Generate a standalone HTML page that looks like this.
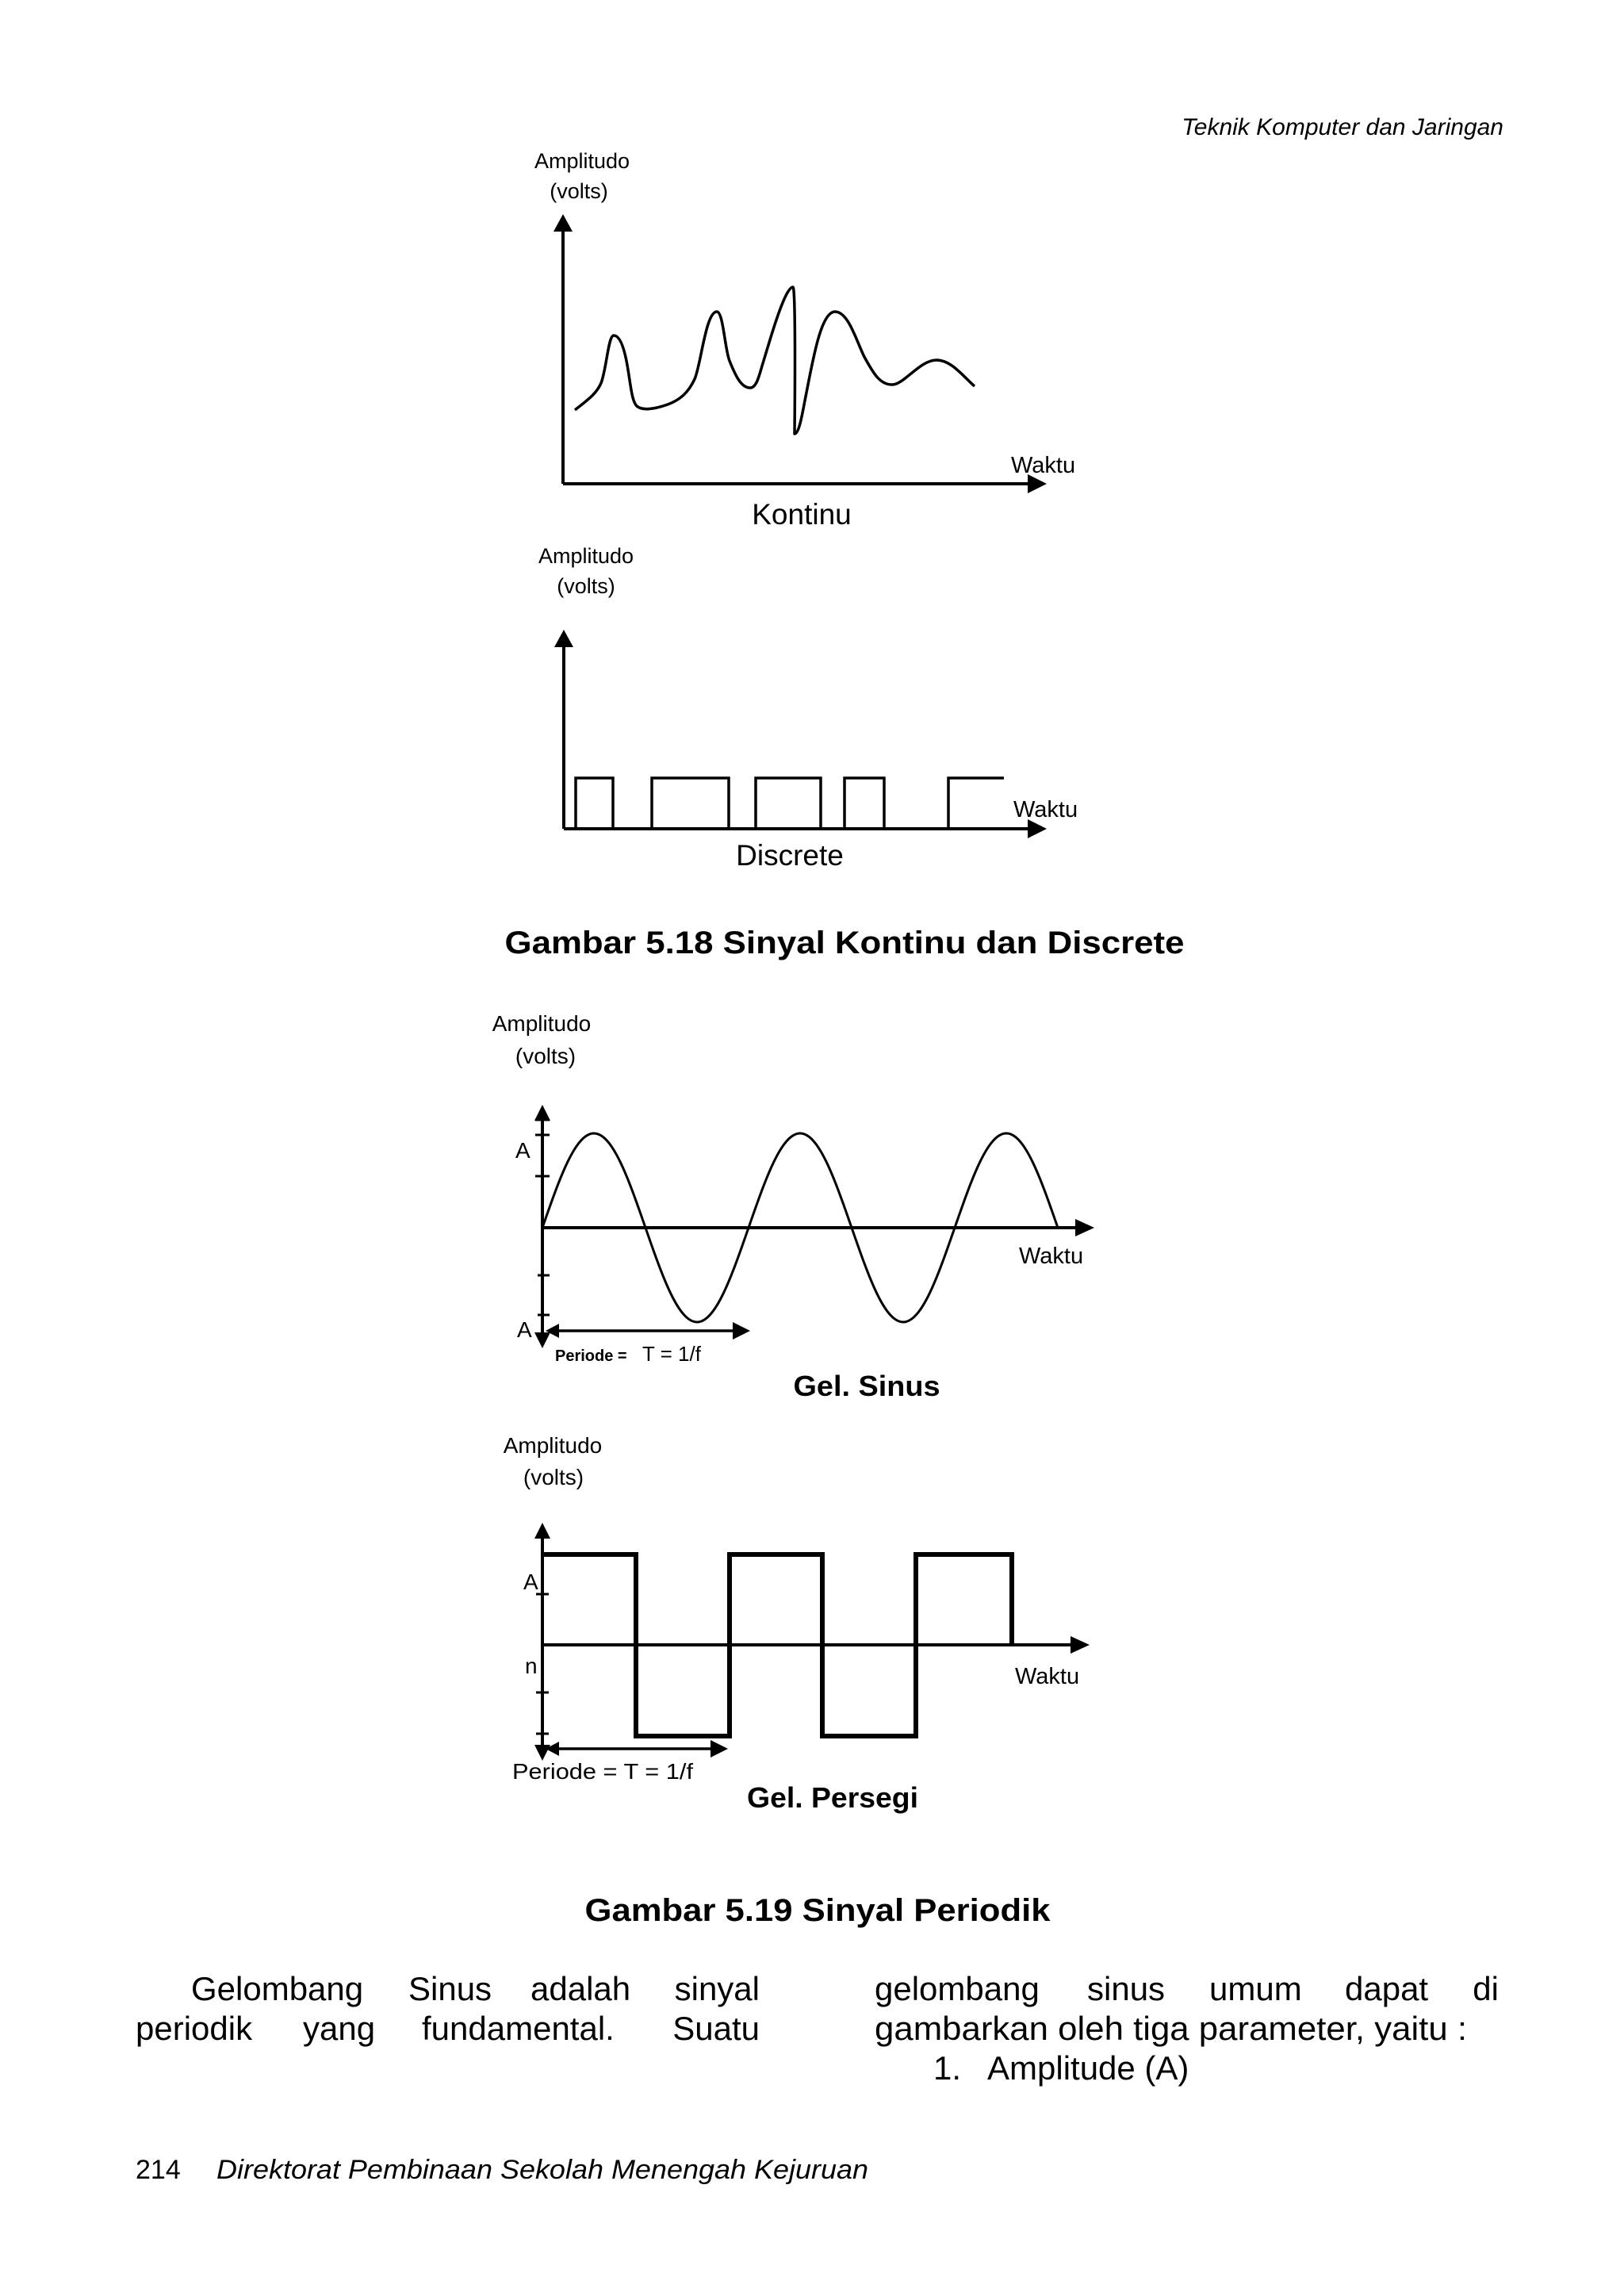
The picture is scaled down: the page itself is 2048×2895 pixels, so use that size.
<!DOCTYPE html>
<html><head><meta charset="utf-8"><style>
html,body{margin:0;padding:0;background:#fff}
svg{display:block}
text{font-family:"Liberation Sans",Arial,sans-serif;fill:#000}
</style></head><body>
<svg width="2048" height="2895" viewBox="0 0 2048 2895" xmlns="http://www.w3.org/2000/svg">
<rect width="2048" height="2895" fill="#fff"/>
<text x="1896" y="170" font-size="30" font-style="italic" text-anchor="end">Teknik Komputer dan Jaringan</text>

<!-- Kontinu -->
<g stroke="#000" fill="none">
<text x="734" y="212" font-size="27" text-anchor="middle" stroke="none">Amplitudo</text>
<text x="730" y="250" font-size="27" text-anchor="middle" stroke="none">(volts)</text>
<line x1="710" y1="285" x2="710" y2="610" stroke-width="4"/>
<line x1="710" y1="610" x2="1300" y2="610" stroke-width="4"/>
<polygon points="710,270 698,292 722,292" fill="#000" stroke="none"/>
<polygon points="1320,610 1296,598 1296,622" fill="#000" stroke="none"/>
<path d="M725,517 C740,505 752,497 758,483 C765,465 767,423 774,423 C782,423 787,440 790,455 C795,480 796,505 803,512 C810,518 825,516 842,510 C858,504 868,495 876,478 C884,460 890,393 904,393 C912,393 914,440 920,455 C928,475 935,489 946,489 C955,489 958,470 963,455 C972,425 990,362 1000,362 C1004,362 1002,547 1002,547 C1008,547 1012,520 1016,500 C1025,455 1035,393 1053,393 C1070,393 1080,430 1090,450 C1102,472 1110,485 1125,485 C1140,485 1160,454 1181,454 C1200,454 1215,475 1229,487" stroke-width="3.5" stroke-linejoin="round"/>
<text x="1275" y="596" font-size="29" stroke="none">Waktu</text>
<text x="1011" y="661" font-size="37" text-anchor="middle" stroke="none">Kontinu</text>

<!-- Discrete -->
<text x="739" y="710" font-size="27" text-anchor="middle" stroke="none">Amplitudo</text>
<text x="739" y="748" font-size="27" text-anchor="middle" stroke="none">(volts)</text>
<line x1="711" y1="808" x2="711" y2="1045" stroke-width="4"/>
<line x1="711" y1="1045" x2="1300" y2="1045" stroke-width="4"/>
<polygon points="711,794 699,816 723,816" fill="#000" stroke="none"/>
<polygon points="1320,1045 1296,1033 1296,1057" fill="#000" stroke="none"/>
<path d="M726,1045 V981 H773 V1045 M822,1045 V981 H919 V1045 M953,1045 V981 H1035 V1045 M1065,1045 V981 H1115 V1045 M1196,1045 V981 H1266" stroke-width="3.5"/>
<text x="1278" y="1030" font-size="29" stroke="none">Waktu</text>
<text x="996" y="1091" font-size="37" text-anchor="middle" stroke="none">Discrete</text>
</g>

<text x="1065" y="1202" font-size="40" font-weight="bold" text-anchor="middle" textLength="857" lengthAdjust="spacingAndGlyphs">Gambar 5.18 Sinyal Kontinu dan Discrete</text>

<!-- Sine -->
<g stroke="#000" fill="none">
<text x="683" y="1300" font-size="28" text-anchor="middle" stroke="none">Amplitudo</text>
<text x="688" y="1341" font-size="28" text-anchor="middle" stroke="none">(volts)</text>
<line x1="684" y1="1408" x2="684" y2="1690" stroke-width="4"/>
<polygon points="684,1393 674,1413 694,1413" fill="#000" stroke="none"/>
<polygon points="684,1700 674,1680 694,1680" fill="#000" stroke="none"/>
<line x1="684" y1="1548" x2="1358" y2="1548" stroke-width="4"/>
<polygon points="1380,1548 1356,1537 1356,1559" fill="#000" stroke="none"/>
<path d="M675,1412 H693 M675,1431 H693 M675,1483 H693 M678,1608 H693 M678,1658 H693" stroke-width="3"/>
<path d="M684,1548 C705.7,1485.5 725.5,1429 749,1429 C772.5,1429 792.3,1485.5 814,1548 C835.7,1610.5 855.5,1667 879,1667 C902.5,1667 922.3,1610.5 944,1548 C965.7,1485.5 985.5,1429 1009,1429 C1032.5,1429 1052.3,1485.5 1074,1548 C1095.7,1610.5 1115.5,1667 1139,1667 C1162.5,1667 1182.3,1610.5 1204,1548 C1225.7,1485.5 1245.5,1429 1269,1429 C1292.5,1429 1312.3,1485.5 1334,1548" stroke-width="3"/>
<line x1="700" y1="1678" x2="930" y2="1678" stroke-width="3.5"/>
<polygon points="688,1678 705,1669 705,1687" fill="#000" stroke="none"/>
<polygon points="946,1678 924,1667 924,1689" fill="#000" stroke="none"/>
<text x="650" y="1460" font-size="28" stroke="none">A</text>
<text x="652" y="1686" font-size="28" stroke="none">A</text>
<text x="700" y="1716" font-size="20" font-weight="bold" stroke="none">Periode =</text>
<text x="810" y="1716" font-size="26" stroke="none">T = 1/f</text>
<text x="1285" y="1593" font-size="29" stroke="none">Waktu</text>
<text x="1093" y="1760" font-size="36" font-weight="bold" text-anchor="middle" stroke="none" textLength="185" lengthAdjust="spacingAndGlyphs">Gel. Sinus</text>

<!-- Square -->
<text x="697" y="1832" font-size="28" text-anchor="middle" stroke="none">Amplitudo</text>
<text x="698" y="1872" font-size="28" text-anchor="middle" stroke="none">(volts)</text>
<line x1="684" y1="1935" x2="684" y2="2210" stroke-width="4"/>
<polygon points="684,1920 674,1940 694,1940" fill="#000" stroke="none"/>
<polygon points="684,2220 674,2200 694,2200" fill="#000" stroke="none"/>
<line x1="684" y1="2074" x2="1352" y2="2074" stroke-width="4"/>
<polygon points="1374,2074 1350,2063 1350,2085" fill="#000" stroke="none"/>
<path d="M676,2010 H692 M676,2134 H692 M676,2186 H692" stroke-width="3"/>
<path d="M686,1960 H802 V2189 H920 V1960 H1037 V2189 H1155 V1960 H1276 V2074" stroke-width="6"/>
<line x1="700" y1="2205" x2="900" y2="2205" stroke-width="3.5"/>
<polygon points="688,2205 705,2196 705,2214" fill="#000" stroke="none"/>
<polygon points="918,2205 896,2194 896,2216" fill="#000" stroke="none"/>
<text x="660" y="2004" font-size="28" stroke="none">A</text>
<text x="662" y="2110" font-size="28" stroke="none">n</text>
<text x="646" y="2243" font-size="28" stroke="none" textLength="228" lengthAdjust="spacingAndGlyphs">Periode = T = 1/f</text>
<text x="1280" y="2123" font-size="29" stroke="none">Waktu</text>
<text x="1050" y="2279" font-size="36" font-weight="bold" text-anchor="middle" stroke="none" textLength="216" lengthAdjust="spacingAndGlyphs">Gel. Persegi</text>
</g>

<text x="1031" y="2422" font-size="40" font-weight="bold" text-anchor="middle" textLength="587" lengthAdjust="spacingAndGlyphs">Gambar 5.19 Sinyal Periodik</text>

<g font-size="42">
<text x="241" y="2522">Gelombang</text>
<text x="515" y="2522">Sinus</text>
<text x="669" y="2522">adalah</text>
<text x="958" y="2522" text-anchor="end">sinyal</text>
<text x="171" y="2572">periodik</text>
<text x="382" y="2572">yang</text>
<text x="532" y="2572">fundamental.</text>
<text x="958" y="2572" text-anchor="end">Suatu</text>
<text x="1103" y="2522">gelombang</text>
<text x="1371" y="2522">sinus</text>
<text x="1525" y="2522">umum</text>
<text x="1696" y="2522">dapat</text>
<text x="1890" y="2522" text-anchor="end">di</text>
<text x="1103" y="2572" textLength="747" lengthAdjust="spacingAndGlyphs">gambarkan oleh tiga parameter, yaitu :</text>
<text x="1177" y="2622">1.</text>
<text x="1245" y="2622">Amplitude (A)</text>
</g>

<text x="171" y="2747" font-size="34">214</text>
<text x="273" y="2747" font-size="34" font-style="italic" textLength="822" lengthAdjust="spacingAndGlyphs">Direktorat Pembinaan Sekolah Menengah Kejuruan</text>
</svg>
</body></html>
